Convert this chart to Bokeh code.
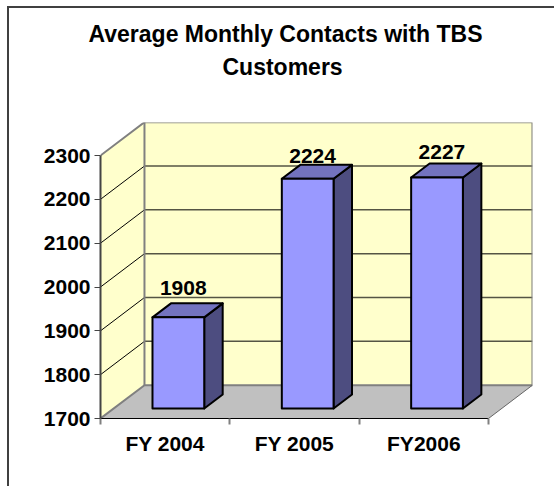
from bokeh.plotting import figure
from bokeh.models import FixedTicker, Range1d, Title, ColumnDataSource
from bokeh.core.properties import value
from bokeh.embed import file_html
from bokeh.resources import INLINE

categories = ["FY 2004", "FY 2005", "FY2006"]
contacts = [1908, 2224, 2227]
y_ticks = [1700, 1800, 1900, 2000, 2100, 2200, 2300]
title_lines = ["Average Monthly Contacts with TBS", "Customers"]

FONT = "Liberation Sans"
Y0, Y1 = y_ticks[0], y_ticks[-1]
N = len(categories)
DX, DY = 0.34, 76.0          # offset of the back wall from the front plane, in data units
BAR_W = 0.40
D_FRONT, D_BACK = 0.30, 0.72 # depth of the bars between front plane (0) and back wall (1)
LABEL_NUDGE_Y = [-15, -9, -12]
FRAME = "#404040"

def pr(c, v, d=0.0):
    return c + d * DX, v + d * DY

def poly(pts):
    xy = [pr(*q) for q in pts]
    return [a for a, _ in xy], [b for _, b in xy]

p = figure(width=554, height=486, output_backend="svg", toolbar_location=None,
           x_range=Range1d(0, 432 / 129.33), y_range=Range1d(Y0, Y0 + 296 / 0.43833),
           min_border_left=100, min_border_right=22, min_border_top=122, min_border_bottom=68)
p.outline_line_color = None
p.background_fill_color = None
p.border_fill_color = None
p.styles = {"background": f"linear-gradient({FRAME},{FRAME}) 7px 6px/100% 2px no-repeat,"
                          f"linear-gradient({FRAME},{FRAME}) 7px 6px/2px 100% no-repeat,"
                          "#ffffff"}
p.xgrid.visible = False
p.ygrid.visible = False

# walls and floor
x, y = poly([(0, Y0, 0), (0, Y1, 0), (0, Y1, 1), (0, Y0, 1)])
p.patch(x, y, fill_color="#FFFFCC", line_color=None)
x, y = poly([(0, Y0, 1), (0, Y1, 1), (N, Y1, 1), (N, Y0, 1)])
p.patch(x, y, fill_color="#FFFFCC", line_color=None)
x, y = poly([(0, Y0, 0), (N, Y0, 0), (N, Y0, 1), (0, Y0, 1)])
p.patch(x, y, fill_color="#C0C0C0", line_color=None)

# gridlines
for t in y_ticks[1:-1]:
    x, y = poly([(0, t, 0), (0, t, 1), (N, t, 1)])
    p.line(x[:2], y[:2], line_color="#000000", line_width=1)
    p.line(x[1:], y[1:], line_color="#555544", line_width=1.5)

# wall edges
x, y = poly([(0, Y0, 0), (0, Y0, 1), (N, Y0, 1), (N, Y1, 1), (0, Y1, 1), (0, Y1, 0)])
p.line(x, y, line_color="#808080", line_width=2)
x, y = poly([(0, Y1, 1), (0, Y0, 1)])
p.line(x, y, line_color="#808080", line_width=2)
x, y = poly([(N, Y0, 0), (N, Y0, 1)])
p.line(x, y, line_color="#666666", line_width=1)

# bars
for i, v in enumerate(contacts):
    a = i + 0.5 - BAR_W / 2
    b = i + 0.5 + BAR_W / 2
    x, y = poly([(b, Y0, D_FRONT), (b, v, D_FRONT), (b, v, D_BACK), (b, Y0, D_BACK)])
    p.patch(x, y, fill_color="#4D4D80", line_color="#000000", line_width=2, line_join="round")
    x, y = poly([(a, v, D_FRONT), (b, v, D_FRONT), (b, v, D_BACK), (a, v, D_BACK)])
    p.patch(x, y, fill_color="#7373BF", line_color="#000000", line_width=2, line_join="round")
    x, y = poly([(a, Y0, D_FRONT), (b, Y0, D_FRONT), (b, v, D_FRONT), (a, v, D_FRONT)])
    p.patch(x, y, fill_color="#9999FF", line_color="#000000", line_width=2, line_join="round")

# data labels
lx = [pr(i + 0.5, v, D_BACK)[0] - 0.105 for i, v in enumerate(contacts)]
ly = [pr(i + 0.5, v, D_BACK)[1] for i, v in enumerate(contacts)]
src = ColumnDataSource(dict(x=lx, y=ly, t=[str(v) for v in contacts], dy=LABEL_NUDGE_Y))
p.text("x", "y", text="t", source=src, text_font=value(FONT), text_font_style="bold",
       text_font_size="21px", text_align="center", text_baseline="alphabetic",
       text_color="#000000", y_offset="dy")

# axes
ya = p.yaxis[0]
ya.ticker = FixedTicker(ticks=y_ticks)
ya.bounds = (Y0, Y1)
ya.axis_line_color = "#444444"
ya.axis_line_width = 2
ya.major_tick_line_color = "#444444"
ya.major_tick_line_width = 1
ya.major_tick_out = 6
ya.major_tick_in = 0
ya.minor_tick_line_color = None
ya.major_label_text_font = FONT
ya.major_label_text_font_style = "bold"
ya.major_label_text_font_size = "21px"
ya.major_label_text_color = "#000000"
ya.major_label_standoff = 4

xa = p.xaxis[0]
centers = [i + 0.5 for i in range(N)]
xa.ticker = FixedTicker(ticks=centers, minor_ticks=list(range(N + 1)))
xa.major_label_overrides = {c: n for c, n in zip(centers, categories)}
xa.bounds = (0, N)
xa.axis_line_color = "#000000"
xa.axis_line_width = 1
xa.major_tick_line_color = None
xa.minor_tick_line_color = "#808080"
xa.minor_tick_line_width = 2
xa.minor_tick_out = 6
xa.minor_tick_in = 0
xa.major_label_text_font = FONT
xa.major_label_text_font_style = "bold"
xa.major_label_text_font_size = "21px"
xa.major_label_text_color = "#000000"
xa.major_label_standoff = 7

# title, two stacked lines (second line is nearest the plot)
for line, stand, off in zip(reversed(title_lines), (86, -77), (122, -12)):
    p.add_layout(Title(text=line, align="left", offset=off, standoff=stand,
                       text_font=FONT, text_font_style="bold", text_font_size="23px",
                       text_color="#000000"), "above")

open("out.html", "w").write(file_html(p, INLINE))
